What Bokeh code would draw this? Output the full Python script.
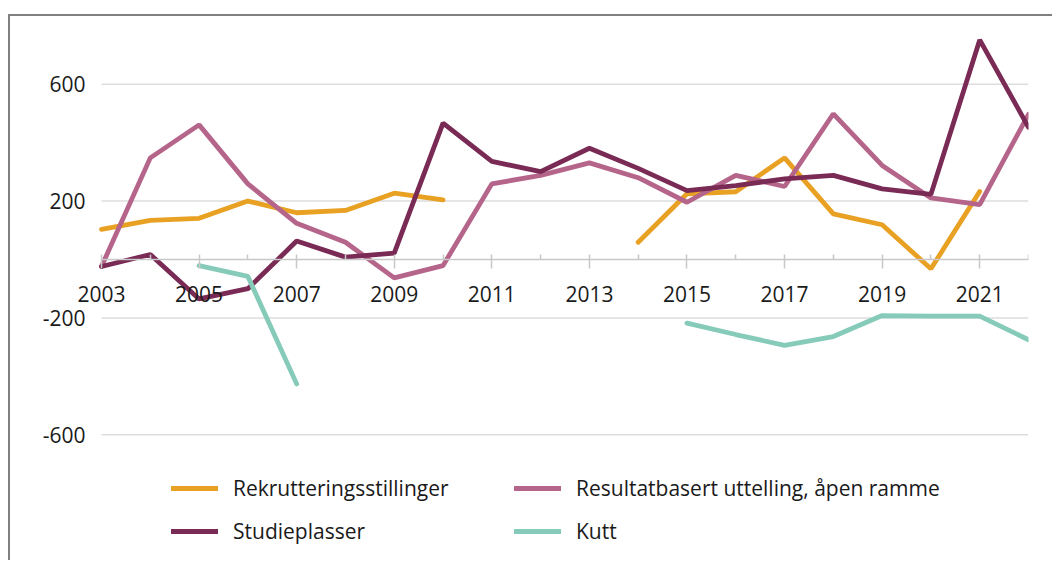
import math
from bokeh.plotting import figure
from bokeh.models import Range1d, FixedTicker, Legend, LegendItem, ColumnDataSource
from bokeh.embed import file_html
from bokeh.resources import INLINE

nan = float("nan")

years = [2003, 2004, 2005, 2006, 2007, 2008, 2009, 2010, 2011, 2012,
         2013, 2014, 2015, 2016, 2017, 2018, 2019, 2020, 2021, 2022]

rekruttering = [103, 134, 141, 200, 160, 168, 227, 204, nan, nan,
                nan, 59, 225, 232, 348, 156, 119, -32, 233, nan]
resultatbasert = [-24, 348, 461, 259, 124, 59, -63, -21, 259, 288,
                  331, 280, 196, 288, 250, 499, 322, 211, 188, 497]
studieplasser = [-24, 17, -135, -100, 63, 8, 22, 467, 336, 301,
                 381, 312, 236, 253, 276, 288, 242, 223, 752, 453]
kutt = [nan, nan, -21, -58, -426, nan, nan, nan, nan, nan,
        nan, nan, -218, -257, -294, -264, -192, -194, -194, -275]

series_names = ["Rekrutteringsstillinger", "Resultatbasert uttelling, åpen ramme",
                "Studieplasser", "Kutt"]
series_values = [rekruttering, resultatbasert, studieplasser, kutt]
series_colors = ["#E8A123", "#B5658A", "#7A2B55", "#86CBB9"]

x_major = [2003, 2005, 2007, 2009, 2011, 2013, 2015, 2017, 2019, 2021]
x_minor = [2004, 2006, 2008, 2010, 2012, 2014, 2016, 2018, 2020, 2022]
y_ticks = [-600, -200, 200, 600]

FONT = "Open Sans"
TEXT = "#1a1a1a"

x0, x1 = years[0], years[-1]

p = figure(width=1044, height=546, output_backend="svg", toolbar_location=None,
           x_range=Range1d(2001.606, 2022), y_range=Range1d(-1037.7, 797.9),
           min_border_left=23, min_border_right=26, min_border_top=10, min_border_bottom=0,
           styles={"position": "relative", "left": "8px", "top": "14px",
                   "border-top": "2px solid #808080",
                   "border-left": "2px solid #808080"})
p.outline_line_color = None
p.background_fill_color = "white"
p.border_fill_color = "white"

# horizontal grid lines spanning the data years only
p.xgrid.grid_line_color = None
p.ygrid.grid_line_color = None
p.segment(x0=[x0] * len(y_ticks), x1=[x1] * len(y_ticks), y0=y_ticks, y1=y_ticks,
          line_color="#dddddd", line_width=1.5)

renderers = []
for name, vals, col in zip(series_names, series_values, series_colors):
    src = ColumnDataSource(dict(x=years, y=vals))
    r = p.line("x", "y", source=src, line_color=col, line_width=4.8, line_cap="round")
    renderers.append(r)

# x axis at zero
xa = p.xaxis[0]
xa.fixed_location = 0
xa.bounds = (x0, x1)
xa.ticker = FixedTicker(ticks=x_major, minor_ticks=x_minor)
xa.axis_line_color = "#c8c8c8"
xa.axis_line_width = 1.5
xa.major_tick_line_color = "#c8c8c8"
xa.major_tick_line_width = 1.5
xa.minor_tick_line_color = "#c8c8c8"
xa.minor_tick_line_width = 1.5
xa.major_tick_in = 5
xa.major_tick_out = 9
xa.minor_tick_in = 5
xa.minor_tick_out = 0
xa.major_label_text_font = FONT
xa.major_label_text_font_size = "21px"
xa.major_label_text_color = TEXT
xa.major_label_standoff = 18

# y axis placed at the first year, labels only
ya = p.yaxis[0]
ya.fixed_location = x0
ya.ticker = FixedTicker(ticks=y_ticks)
ya.major_label_overrides = {v: str(v) for v in y_ticks}
ya.axis_line_color = None
ya.major_tick_line_color = None
ya.minor_tick_line_color = None
ya.major_tick_in = 0
ya.major_tick_out = 0
ya.major_label_standoff = 16
ya.major_label_text_font = FONT
ya.major_label_text_font_size = "21px"
ya.major_label_text_color = TEXT

def make_legend(items, loc):
    return Legend(items=items, location=loc, orientation="vertical",
                  padding=0, margin=0, spacing=15,
                  glyph_width=47, glyph_height=24, label_height=24,
                  label_standoff=15, border_line_color=None,
                  background_fill_alpha=0,
                  label_text_font=FONT, label_text_font_size="21px",
                  label_text_color=TEXT)

leg1 = make_legend([LegendItem(label=series_names[0], renderers=[renderers[0]]),
                    LegendItem(label=series_names[2], renderers=[renderers[2]])], (138, 17))
leg2 = make_legend([LegendItem(label=series_names[1], renderers=[renderers[1]]),
                    LegendItem(label=series_names[3], renderers=[renderers[3]])], (481, 17))
p.add_layout(leg1, "center")
p.add_layout(leg2, "center")

open("out.html", "w").write(file_html(p, INLINE))
